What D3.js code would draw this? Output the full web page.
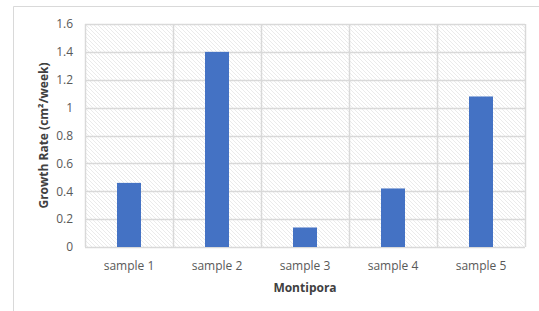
<!DOCTYPE html>
<html>
<head>
<meta charset="utf-8">
<script src="https://cdn.jsdelivr.net/npm/d3@7"></script>
<style>
  body { margin: 0; background: #fff; }
  svg { display: block; font-family: "Open Sans", sans-serif; }
</style>
</head>
<body>
<div id="chart"></div>
<script>
const categories = ["sample 1", "sample 2", "sample 3", "sample 4", "sample 5"];
const values = [0.46, 1.40, 0.14, 0.42, 1.08];
const yTicks = [0, 0.2, 0.4, 0.6, 0.8, 1, 1.2, 1.4, 1.6];

const W = 539, H = 311;
const margin = {top: 24, right: 14, bottom: 64, left: 85};
const width = W - margin.left - margin.right;
const height = H - margin.top - margin.bottom;

const svg = d3.select("#chart").append("svg")
    .attr("width", W)
    .attr("height", H);

// hatch fill for the plot area
const pat = svg.append("defs").append("pattern")
    .attr("id", "hatch")
    .attr("patternUnits", "userSpaceOnUse")
    .attr("width", 4)
    .attr("height", 4);
pat.append("rect").attr("width", 4).attr("height", 4).attr("fill", "#fff");
pat.append("path")
    .attr("d", "M-1,-1L5,5M-1,3L1,5M3,-1L5,1")
    .attr("stroke", "#e6e6e6")
    .attr("stroke-width", 0.8);

// outer chart border (top + left)
svg.append("path")
    .attr("d", `M13.5,${H}L13.5,6.5L${W},6.5`)
    .attr("fill", "none")
    .attr("stroke", "#d9d9d9")
    .attr("stroke-width", 1);

const g = svg.append("g")
    .attr("transform", "translate(" + margin.left + "," + margin.top + ")");

const x = d3.scaleBand().domain(categories).range([0, width]);
const y = d3.scaleLinear().domain([0, 1.6]).range([height, 0]);

g.append("rect")
    .attr("width", width)
    .attr("height", height)
    .attr("fill", "url(#hatch)");

// horizontal gridlines
g.append("g")
    .selectAll("line")
    .data(yTicks)
    .enter().append("line")
    .attr("x1", 0).attr("x2", width)
    .attr("y1", d => Math.round(y(d)) + 0.5)
    .attr("y2", d => Math.round(y(d)) + 0.5)
    .attr("stroke", "#d9d9d9")
    .attr("stroke-width", 1.5);

// vertical gridlines at category edges
const edges = categories.map(c => x(c)).concat([width]);
g.append("g")
    .selectAll("line")
    .data(edges)
    .enter().append("line")
    .attr("x1", d => Math.round(d) + 0.5)
    .attr("x2", d => Math.round(d) + 0.5)
    .attr("y1", 0).attr("y2", height)
    .attr("stroke", "#d9d9d9")
    .attr("stroke-width", 1.5);

// bars
const barW = 24;
g.selectAll(".bar")
    .data(values)
    .enter().append("rect")
    .attr("class", "bar")
    .attr("x", (d, i) => x(categories[i]) + x.bandwidth() / 2 - barW / 2)
    .attr("y", d => y(d))
    .attr("width", barW)
    .attr("height", d => height - y(d))
    .attr("fill", "#4472c4");

// y axis labels
const yAxis = g.append("g")
    .call(d3.axisLeft(y).tickValues(yTicks).tickSize(0).tickPadding(12)
        .tickFormat(d => d3.format("~g")(d)));
yAxis.select(".domain").remove();
yAxis.selectAll("text")
    .attr("font-family", "Open Sans, sans-serif")
    .attr("font-size", 12)
    .attr("fill", "#595959");

// x axis labels
const xAxis = g.append("g")
    .attr("transform", "translate(0," + height + ")")
    .call(d3.axisBottom(x).tickSize(0).tickPadding(14));
xAxis.select(".domain").remove();
xAxis.selectAll("text")
    .attr("font-family", "Open Sans, sans-serif")
    .attr("font-size", 12)
    .attr("fill", "#595959");

// axis titles
svg.append("text")
    .attr("x", margin.left + width / 2)
    .attr("y", 292)
    .attr("text-anchor", "middle")
    .attr("font-size", 12)
    .attr("font-weight", "bold")
    .attr("fill", "#404040")
    .text("Montipora");

svg.append("text")
    .attr("transform", "translate(48," + (margin.top + height / 2) + ") rotate(-90)")
    .attr("text-anchor", "middle")
    .attr("font-size", 12)
    .attr("font-weight", "bold")
    .attr("fill", "#404040")
    .text("Growth Rate (cm²/week)");
</script>
</body>
</html>
